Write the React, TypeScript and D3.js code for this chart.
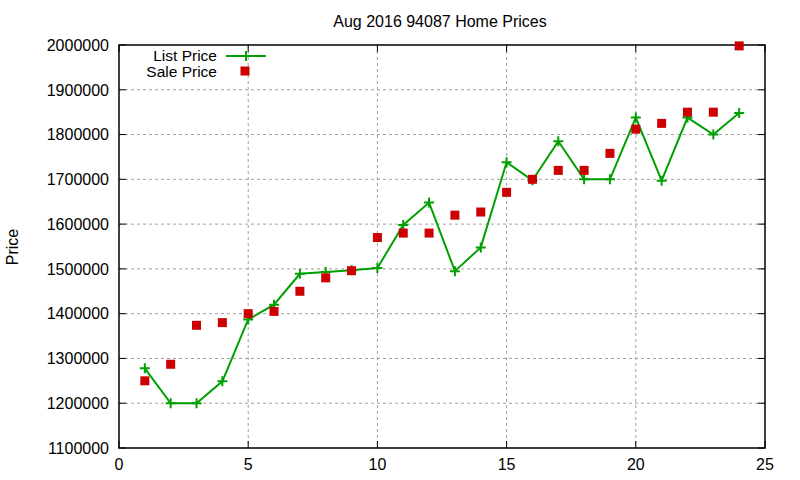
import { useEffect, useRef } from "react";
import * as d3 from "d3";

const xValues = [1, 2, 3, 4, 5, 6, 7, 8, 9, 10, 11, 12, 13, 14, 15, 16, 17, 18, 19, 20, 21, 22, 23, 24];
const listPrice = [
  1278000, 1200000, 1200000, 1249000, 1387000, 1420000, 1489000, 1493000, 1497000, 1502000, 1598000, 1648000,
  1495000, 1548000, 1738000, 1698000, 1785000, 1700000, 1700000, 1838000, 1697000, 1838000, 1800000, 1848000,
];
const salePrice = [
  1250000, 1287000, 1374000, 1380000, 1400000, 1405000, 1450000, 1480000, 1496000, 1570000, 1580000, 1580000,
  1620000, 1627000, 1671000, 1700000, 1720000, 1720000, 1758000, 1812000, 1825000, 1850000, 1850000, 1998000,
];
const xTicks = [0, 5, 10, 15, 20, 25];
const yTicks = [1100000, 1200000, 1300000, 1400000, 1500000, 1600000, 1700000, 1800000, 1900000, 2000000];

const FONT = "Liberation Sans, Arial, sans-serif";

export default function App() {
  const svgRef = useRef<SVGSVGElement | null>(null);

  useEffect(() => {
    document.body.style.margin = "0";
    if (!svgRef.current) return;
    const width = 800;
    const height = 480;
    const margin = { top: 45, right: 35, bottom: 32, left: 119 };
    const w = width - margin.left - margin.right;
    const h = height - margin.top - margin.bottom;

    const svg = d3.select(svgRef.current);
    svg.selectAll("*").remove();
    svg.append("rect").attr("width", width).attr("height", height).attr("fill", "#fff");

    const g = svg.append("g").attr("transform", `translate(${margin.left},${margin.top})`);

    const x = d3.scaleLinear().domain([0, 25]).range([0, w]);
    const y = d3.scaleLinear().domain([1100000, 2000000]).range([h, 0]);

    // grid
    const grid = g.append("g");
    xTicks.slice(1, -1).forEach((t) => {
      grid.append("line")
        .attr("x1", x(t)).attr("x2", x(t)).attr("y1", 0).attr("y2", h)
        .attr("stroke", "#a0a0a0").attr("stroke-width", 1).attr("stroke-dasharray", "3,3");
    });
    yTicks.slice(1, -1).forEach((t) => {
      grid.append("line")
        .attr("x1", 0).attr("x2", w).attr("y1", y(t)).attr("y2", y(t))
        .attr("stroke", "#a0a0a0").attr("stroke-width", 1).attr("stroke-dasharray", "3,3");
    });

    // inward ticks on all four sides
    const tickLen = 7;
    const ticks = g.append("g").attr("stroke", "#000").attr("stroke-width", 1);
    xTicks.forEach((t) => {
      ticks.append("line").attr("x1", x(t)).attr("x2", x(t)).attr("y1", h).attr("y2", h - tickLen);
      ticks.append("line").attr("x1", x(t)).attr("x2", x(t)).attr("y1", 0).attr("y2", tickLen);
    });
    yTicks.forEach((t) => {
      ticks.append("line").attr("x1", 0).attr("x2", tickLen).attr("y1", y(t)).attr("y2", y(t));
      ticks.append("line").attr("x1", w).attr("x2", w - tickLen).attr("y1", y(t)).attr("y2", y(t));
    });

    // border
    g.append("rect")
      .attr("x", 0).attr("y", 0).attr("width", w).attr("height", h)
      .attr("fill", "none").attr("stroke", "#000").attr("stroke-width", 1.5);

    // tick labels
    g.append("g").selectAll("text").data(xTicks).enter().append("text")
      .attr("x", (d) => x(d)).attr("y", h + 22)
      .attr("text-anchor", "middle")
      .attr("font-family", FONT).attr("font-size", 16)
      .text((d) => String(d));
    g.append("g").selectAll("text").data(yTicks).enter().append("text")
      .attr("x", -10).attr("y", (d) => y(d)).attr("dy", "0.36em")
      .attr("text-anchor", "end")
      .attr("font-family", FONT).attr("font-size", 16)
      .text((d) => String(d));

    // title and axis label
    svg.append("text")
      .attr("x", 440).attr("y", 27).attr("text-anchor", "middle")
      .attr("font-family", FONT).attr("font-size", 16)
      .text("Aug 2016 94087 Home Prices");
    svg.append("text")
      .attr("transform", "translate(18,247) rotate(-90)")
      .attr("text-anchor", "middle")
      .attr("font-family", FONT).attr("font-size", 16)
      .text("Price");

    const listData = xValues.map((xv, i) => ({ x: xv, y: listPrice[i] }));
    const saleData = xValues.map((xv, i) => ({ x: xv, y: salePrice[i] }));
    const green = "#00a000";
    const red = "#cc0000";

    const line = d3.line<{ x: number; y: number }>().x((d) => x(d.x)).y((d) => y(d.y));
    g.append("path").datum(listData)
      .attr("d", line).attr("fill", "none").attr("stroke", green).attr("stroke-width", 2);

    const plus = 5;
    const plusG = g.append("g").attr("stroke", green).attr("stroke-width", 2);
    listData.forEach((d) => {
      plusG.append("path")
        .attr("d", `M${x(d.x) - plus},${y(d.y)}H${x(d.x) + plus}M${x(d.x)},${y(d.y) - plus}V${y(d.y) + plus}`);
    });

    const sq = 9;
    g.append("g").selectAll("rect").data(saleData).enter().append("rect")
      .attr("x", (d) => x(d.x) - sq / 2).attr("y", (d) => y(d.y) - sq / 2)
      .attr("width", sq).attr("height", sq).attr("fill", red);

    // legend
    const leg = svg.append("g");
    leg.append("text").attr("x", 217).attr("y", 61).attr("text-anchor", "end")
      .attr("font-family", FONT).attr("font-size", 15.5).text("List Price");
    leg.append("line").attr("x1", 226).attr("x2", 266).attr("y1", 56).attr("y2", 56)
      .attr("stroke", green).attr("stroke-width", 2);
    leg.append("path").attr("d", `M${246 - plus},56H${246 + plus}M246,${56 - plus}V${56 + plus}`)
      .attr("stroke", green).attr("stroke-width", 2);
    leg.append("text").attr("x", 217).attr("y", 77).attr("text-anchor", "end")
      .attr("font-family", FONT).attr("font-size", 15.5).text("Sale Price");
    leg.append("rect").attr("x", 245 - sq / 2).attr("y", 71 - sq / 2).attr("width", sq).attr("height", sq)
      .attr("fill", red);
  }, []);

  return (
    <div style={{ position: "absolute", left: 0, top: 0 }}>
      <svg ref={svgRef} width={800} height={480} style={{ display: "block" }} />
    </div>
  );
}
